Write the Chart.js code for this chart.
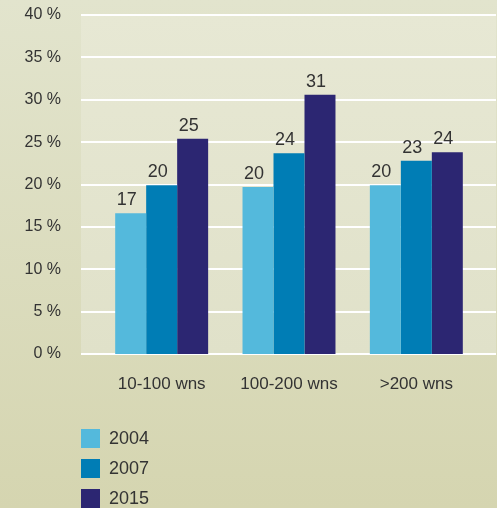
<!DOCTYPE html>
<html>
<head>
<meta charset="utf-8">
<script src="https://cdn.jsdelivr.net/npm/chart.js@4/dist/chart.umd.min.js"></script>
<style>
  html, body { margin: 0; padding: 0; background: #dcdcbf; }
  #wrap { width: 497px; height: 508px; position: relative; }
</style>
</head>
<body>
<div id="wrap"><canvas id="c" width="497" height="508"></canvas></div>
<script>
const categories = ['10-100 wns', '100-200 wns', '>200 wns'];
const seriesNames = ['2004', '2007', '2015'];
const values2004 = [16.6, 19.7, 19.9];
const values2007 = [19.9, 23.7, 22.8];
const values2015 = [25.4, 30.6, 23.8];
const labels2004 = ['17', '20', '20'];
const labels2007 = ['20', '24', '23'];
const labels2015 = ['25', '31', '24'];
const yTicks = [0, 5, 10, 15, 20, 25, 30, 35, 40];

const colors = ['#54b9dc', '#007db5', '#2c2672'];
const FONT = '"Liberation Sans", Arial, sans-serif';
const TEXT = '#333333';

const bgPlugin = {
  id: 'bg',
  beforeDraw(chart) {
    const ctx = chart.ctx;
    const W = chart.width, H = chart.height;
    const g = ctx.createLinearGradient(0, 0, 0, H);
    g.addColorStop(0, '#e2e4cd');
    g.addColorStop(1, '#d5d5b0');
    ctx.save();
    ctx.fillStyle = g;
    ctx.fillRect(0, 0, W, H);
    const y = chart.scales.y;
    const top = y.getPixelForValue(40), bottom = y.getPixelForValue(0);
    const g2 = ctx.createLinearGradient(0, top, 0, bottom);
    g2.addColorStop(0, '#e7e8d4');
    g2.addColorStop(1, '#e0e1c9');
    ctx.fillStyle = g2;
    ctx.fillRect(81, top, 496 - 81, bottom - top);
    ctx.restore();
  },
  beforeDatasetsDraw(chart) {
    const ctx = chart.ctx;
    const y = chart.scales.y;
    ctx.save();
    ctx.strokeStyle = '#ffffff';
    ctx.lineWidth = 2;
    y.ticks.forEach(t => {
      const py = Math.round(y.getPixelForValue(t.value));
      ctx.beginPath();
      ctx.moveTo(81, py);
      ctx.lineTo(496, py);
      ctx.stroke();
    });
    ctx.restore();
  },
  afterDatasetsDraw(chart) {
    const ctx = chart.ctx;
    ctx.save();
    ctx.fillStyle = TEXT;
    ctx.font = '18px ' + FONT;
    ctx.textAlign = 'center';
    ctx.textBaseline = 'alphabetic';
    chart.data.datasets.forEach((ds, i) => {
      const meta = chart.getDatasetMeta(i);
      meta.data.forEach((bar, j) => {
        ctx.fillText(ds.valueLabels[j], bar.x - 4, bar.y - 8);
      });
    });
    ctx.restore();
  },
  afterDraw(chart) {
    const ctx = chart.ctx;
    ctx.save();
    ctx.font = '18px ' + FONT;
    ctx.textAlign = 'left';
    ctx.textBaseline = 'middle';
    chart.data.datasets.forEach((ds, i) => {
      const top = 429 + i * 30;
      ctx.fillStyle = ds.backgroundColor;
      ctx.fillRect(81, top, 19, 19);
      ctx.fillStyle = TEXT;
      ctx.fillText(ds.label, 109, top + 10);
    });
    ctx.restore();
  }
};

new Chart(document.getElementById('c'), {
  type: 'bar',
  data: {
    labels: categories,
    datasets: [
      { label: seriesNames[0], data: values2004, valueLabels: labels2004, backgroundColor: colors[0] },
      { label: seriesNames[1], data: values2007, valueLabels: labels2007, backgroundColor: colors[1] },
      { label: seriesNames[2], data: values2015, valueLabels: labels2015, backgroundColor: colors[2] }
    ]
  },
  options: {
    responsive: false,
    animation: false,
    devicePixelRatio: 1,
    layout: { padding: { top: 15, right: 17, bottom: 0, left: 0 } },
    datasets: { bar: { categoryPercentage: 0.73, barPercentage: 1, borderWidth: 0 } },
    plugins: { legend: { display: false }, tooltip: { enabled: false } },
    scales: {
      x: {
        grid: { display: false, drawTicks: false },
        border: { display: false },
        ticks: { color: TEXT, font: { family: FONT, size: 17 }, padding: 20, maxRotation: 0 },
        afterFit(scale) { scale.height = 154; scale.paddingLeft = 0; scale.paddingRight = 0; }
      },
      y: {
        min: 0, max: 40,
        afterBuildTicks(scale) { scale.ticks = yTicks.map(v => ({ value: v })); },
        grid: { display: false, drawTicks: false },
        border: { display: false },
        ticks: { color: TEXT, font: { family: FONT, size: 16 }, padding: 37, callback: v => v + ' %' },
        afterFit(scale) { scale.width = 98; scale.paddingTop = 9; scale.paddingBottom = 9; }
      }
    }
  },
  plugins: [bgPlugin]
});
</script>
</body>
</html>
